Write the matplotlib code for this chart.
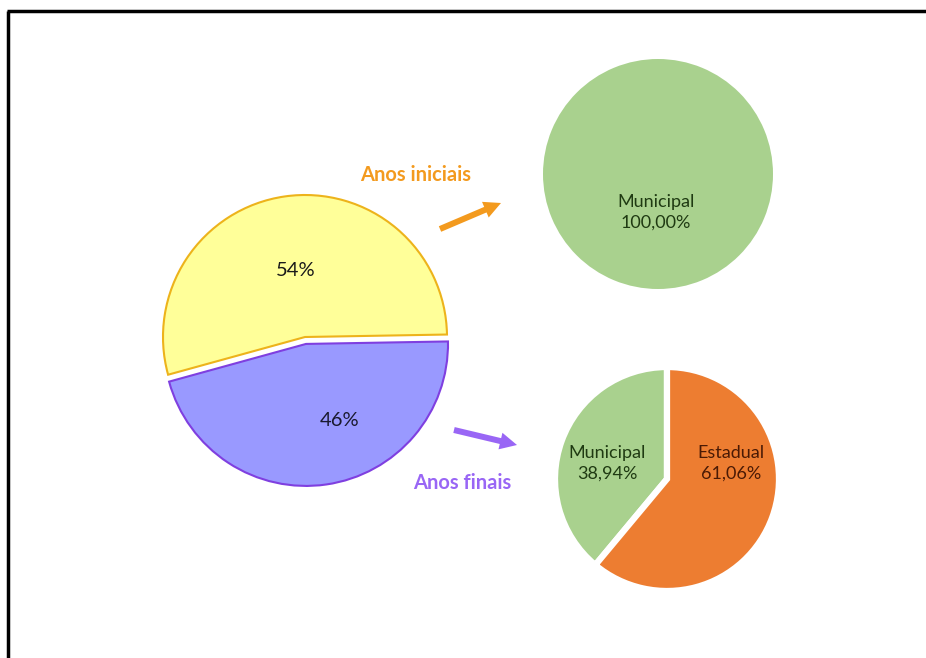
import matplotlib.pyplot as plt
from matplotlib.patches import FancyArrow

plt.rcParams["font.family"] = ["Lato", "DejaVu Sans"]

# dados
etapas = ["Anos iniciais", "Anos finais"]
etapas_pct = [54, 46]
iniciais_rede = ["Municipal"]
iniciais_pct = [100.00]
finais_rede = ["Municipal", "Estadual"]
finais_pct = [38.94, 61.06]

W, H = 926, 658
fig = plt.figure(figsize=(W / 100, H / 100), dpi=100)
ax = fig.add_axes([0, 0, 1, 1])


def py(y):
    # coordenada de tela (y para baixo) -> dados (y para cima)
    return H - y


def rotulo(nome, v):
    return f"{nome}\n{v:.2f}%".replace(".", ",")


# pizza principal (explode em unidades de dados)
wedges, texts = ax.pie(
    etapas_pct,
    center=(305, py(337)),
    radius=142,
    startangle=1,
    counterclock=True,
    colors=["#FFFF99", "#9999FF"],
    explode=[0, 7],
    wedgeprops=dict(linewidth=1.5),
)
wedges[0].set_edgecolor("#EDB31B")
wedges[1].set_edgecolor("#7F3FE0")
ax.text(296, py(270), f"{etapas_pct[0]}%", ha="center", va="center", fontsize=14.5, color="#1a1a1a")
ax.text(340, py(421), f"{etapas_pct[1]}%", ha="center", va="center", fontsize=14.5, color="#1a1a2e")

# anos iniciais
ax.pie(iniciais_pct, center=(658, py(174)), radius=115, colors=["#A9D18E"],
       wedgeprops=dict(linewidth=0))
ax.text(656, py(212), rotulo(iniciais_rede[0], iniciais_pct[0]), ha="center", va="center",
        fontsize=13, color="#1f3a12", linespacing=1.35)

# anos finais
ax.pie(finais_pct, center=(667, py(479)), radius=112, startangle=90, counterclock=True,
       colors=["#A9D18E", "#ED7D31"],
       wedgeprops=dict(edgecolor="white", linewidth=4.5))
ax.text(607, py(463), rotulo(finais_rede[0], finais_pct[0]), ha="center", va="center",
        fontsize=13, color="#1f3a12", linespacing=1.35)
ax.text(731, py(463), rotulo(finais_rede[1], finais_pct[1]), ha="center", va="center",
        fontsize=13, color="#4a1a05", linespacing=1.35)

# titulos e setas
ax.text(416, py(175), etapas[0], ha="center", va="center", fontsize=14.5,
        fontweight="bold", color="#F39A1E")
ax.text(462, py(483), etapas[1], ha="center", va="center", fontsize=14.5,
        fontweight="bold", color="#9966F5")
ax.add_patch(FancyArrow(440, py(229), 61, py(203) - py(229), width=6, head_width=17,
                        head_length=17, length_includes_head=True, color="#F39A1E", lw=0))
ax.add_patch(FancyArrow(454, py(430), 63, py(445) - py(430), width=6, head_width=17,
                        head_length=17, length_includes_head=True, color="#9966F5", lw=0))

# moldura (topo e esquerda)
ax.plot([7, W], [py(11), py(11)], color="black", lw=2.5, solid_capstyle="butt")
ax.plot([8, 8], [py(11), 0], color="black", lw=2.5, solid_capstyle="butt")

ax.set_xlim(0, W)
ax.set_ylim(0, H)
ax.set_aspect("equal")
ax.axis("off")

fig.savefig("out.png", dpi=100, facecolor="white")
